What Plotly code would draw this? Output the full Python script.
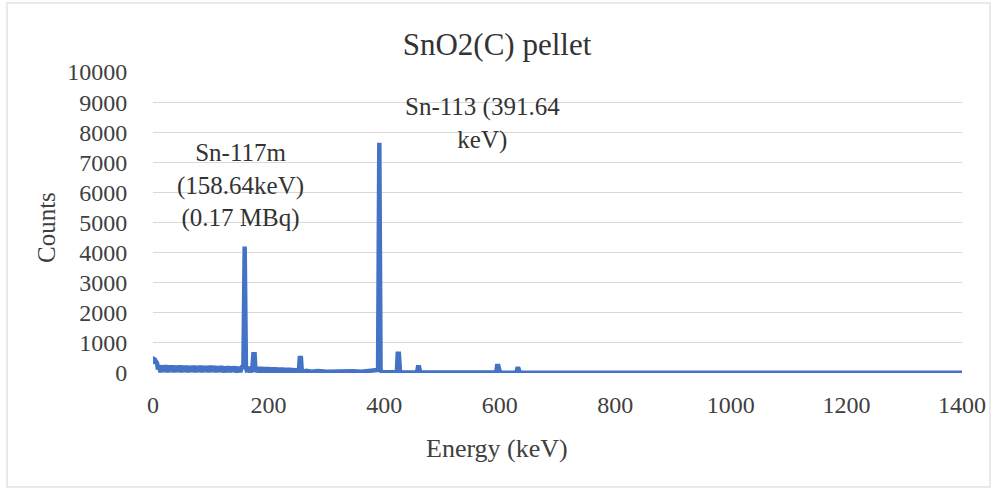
import plotly.graph_objects as go

# Energy (keV) and counts
energy = [0, 1, 3, 5, 7, 8.5,
          10, 13, 16, 19, 22, 25, 28, 31, 34, 37,
          40, 43, 46, 49, 52, 55, 58, 61, 64, 67,
          70, 73, 76, 79, 82, 85, 88, 91, 94, 97,
          100, 103, 106, 109, 112, 115, 118, 121, 124, 127,
          130, 133, 136, 139, 142, 145, 148, 151, 154,
          156.5, 158.64, 160.8,
          163, 166, 169, 172, 173.8, 175.8, 177.5, 181, 184, 187,
          190, 193, 196, 199, 202, 205, 208, 211, 214, 217,
          220, 223, 226, 229, 232, 235, 238, 241, 244, 247,
          250, 252.5, 254, 256, 257.5, 261,
          265, 275, 285, 300, 315, 330, 345, 360, 375, 385,
          389.5, 391.64, 393.8, 397, 410, 422, 423.5, 425.5, 427.5, 440,
          450, 457, 458.5, 460.5, 462.5, 480, 520, 560, 590, 594,
          595.5, 597.5, 600, 603, 620, 629, 630.5, 632.5, 634.5, 660,
          700, 800, 900, 1000, 1100, 1200, 1300, 1400]
counts = [300, 470, 450, 400, 330, 120,
          260, 30, 250, 40, 255, 25, 245, 35, 250, 30,
          240, 40, 245, 25, 235, 35, 240, 30, 230, 40,
          235, 25, 230, 35, 240, 30, 225, 40, 230, 25,
          235, 35, 225, 30, 220, 40, 225, 25, 215, 35,
          220, 30, 210, 40, 215, 25, 205, 35, 200,
          220, 4200, 200,
          30, 200, 20, 190, 620, 620, 30, 195, 20, 190,
          25, 185, 20, 180, 25, 175, 20, 170, 25, 165,
          20, 160, 25, 155, 20, 150, 25, 140, 20, 130,
          30, 80, 500, 500, 60, 50,
          70, 40, 65, 45, 60, 40, 60, 45, 60, 70,
          100, 7650, 80, 30, 20, 25, 640, 640, 25, 20,
          15, 15, 190, 190, 15, 15, 12, 12, 15, 15,
          230, 230, 50, 12, 10, 10, 140, 140, 10, 10,
          8, 8, 8, 8, 8, 8, 8, 8]

x_ticks = [0, 200, 400, 600, 800, 1000, 1200, 1400]
y_ticks = [0, 1000, 2000, 3000, 4000, 5000, 6000, 7000, 8000, 9000, 10000]

font_family = "Liberation Serif, Times New Roman, serif"
text_col = "#404040"

L, R, T, B = 153, 32, 72, 117
PW = 994 - L - R
PH = 490 - T - B

fig = go.Figure()
fig.add_trace(go.Scatter(
    x=energy, y=counts, mode="lines",
    line=dict(color="#4472C4", width=4.5),
    showlegend=False, hoverinfo="x+y",
))

fig.update_layout(
    width=994, height=490,
    margin=dict(l=L, r=R, t=T, b=B, autoexpand=False),
    paper_bgcolor="white", plot_bgcolor="white",
    font=dict(family=font_family, size=24, color=text_col),
    title=dict(text="SnO2(C) pellet", x=(497 / 994), xanchor="center",
               y=1 - 44 / 490, yanchor="middle",
               font=dict(size=31, color="#333333")),
    xaxis=dict(
        range=[0, 1400], tickvals=x_ticks, ticktext=[str(v) for v in x_ticks],
        showgrid=False, zeroline=False, showline=False, automargin=False,
        ticks="outside", ticklen=10, tickcolor="rgba(0,0,0,0)",
        tickfont=dict(size=24),
    ),
    yaxis=dict(
        range=[0, 10000], tickvals=y_ticks, ticktext=[str(v) for v in y_ticks],
        showgrid=True, gridcolor="#d9d9d9", gridwidth=1,
        zeroline=False, showline=False, automargin=False,
        ticks="outside", ticklen=20, tickcolor="rgba(0,0,0,0)",
        tickfont=dict(size=24),
    ),
    annotations=[
        dict(x=(497 - L) / PW, y=-(448 - 373) / PH, xref="paper", yref="paper",
             text="Energy (keV)", showarrow=False, xanchor="center", yanchor="middle",
             font=dict(size=26, color=text_col)),
        dict(x=(47 - L) / PW, y=(373 - 227) / PH, xref="paper", yref="paper",
             text="Counts", showarrow=False, textangle=-90,
             xanchor="center", yanchor="middle",
             font=dict(size=25, color=text_col)),
        dict(x=152, y=6245, xref="x", yref="y",
             text="Sn-117m<br>(158.64keV)<br>(0.17 MBq)", showarrow=False,
             font=dict(size=25, color="#333333"), align="center"),
        dict(x=571, y=8300, xref="x", yref="y",
             text="Sn-113 (391.64<br>keV)", showarrow=False,
             font=dict(size=25, color="#333333"), align="center"),
    ],
    shapes=[
        dict(type="rect", xref="paper", yref="paper",
             x0=(7 - L) / PW, x1=(990 - L) / PW,
             y0=-(487 - 373) / PH, y1=(373 - 3) / PH,
             line=dict(color="#e3e3e3", width=1.5), layer="below"),
    ],
)

fig.write_html(
    "out.html",
    config={"displayModeBar": False},
    post_script="document.body.style.margin='0';document.body.style.overflow='hidden';",
)
